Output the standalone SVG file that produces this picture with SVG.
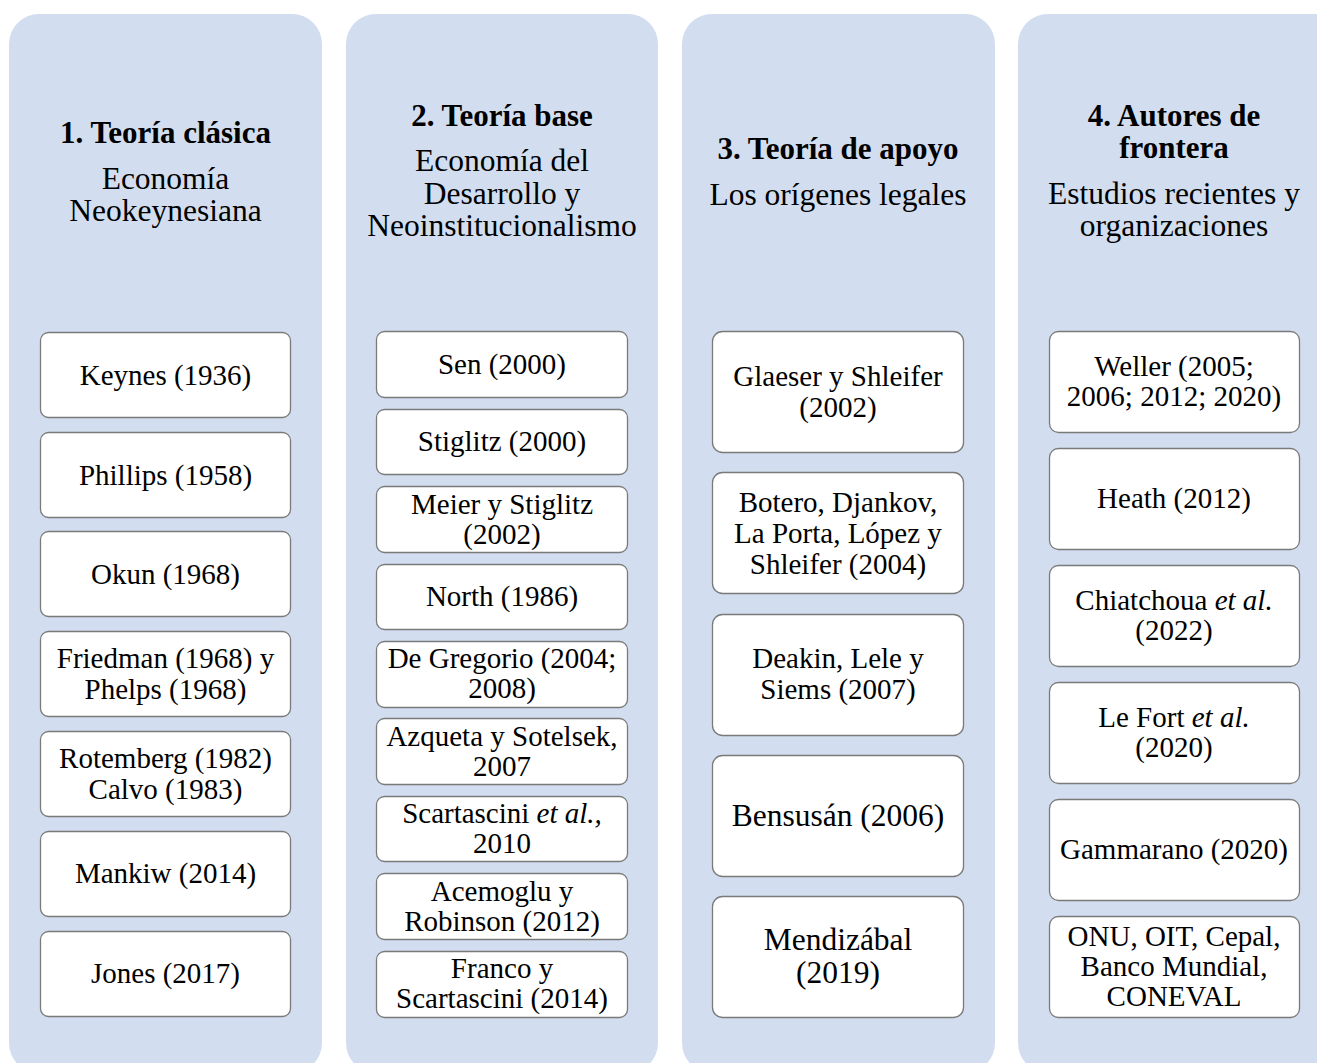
<svg xmlns="http://www.w3.org/2000/svg" width="1317" height="1063" viewBox="0 0 1317 1063">
<style>
.panel{fill:#D2DEEF;stroke:none}
.box{fill:#FFFFFF;stroke:#7A7A7A;stroke-width:1.3}
text{font-family:"Liberation Serif","Times New Roman",serif;fill:#000;text-anchor:middle}
.h{font-size:31px;font-weight:bold}
.s{font-size:31.5px}
.t{font-size:29px}
.tl{font-size:31.5px}
.i{font-style:italic}
</style>
<rect width="1317" height="1063" fill="#FFFFFF"/>
<g id="connectors"></g>

<g id="col1">
<rect class="panel" x="9" y="14" width="313" height="1059" rx="30"/>
<text class="h" x="165.5" y="143">1. Teoría clásica</text>
<text class="s" x="165.5" y="189">Economía</text>
<text class="s" x="165.5" y="221">Neokeynesiana</text>
</g>
<g id="c1n1"><rect class="box" x="40.5" y="332.5" width="250" height="85" rx="8"/><text class="t" x="165.5" y="385">Keynes (1936)</text></g>
<g id="c1n2"><rect class="box" x="40.5" y="432.5" width="250" height="85" rx="8"/><text class="t" x="165.5" y="485">Phillips (1958)</text></g>
<g id="c1n3"><rect class="box" x="40.5" y="531.5" width="250" height="85" rx="8"/><text class="t" x="165.5" y="584">Okun (1968)</text></g>
<g id="c1n4"><rect class="box" x="40.5" y="631.5" width="250" height="85" rx="8"/><text class="t" x="165.5" y="668">Friedman (1968) y</text><text class="t" x="165.5" y="699">Phelps (1968)</text></g>
<g id="c1n5"><rect class="box" x="40.5" y="731.5" width="250" height="85" rx="8"/><text class="t" x="165.5" y="768">Rotemberg (1982)</text><text class="t" x="165.5" y="799">Calvo (1983)</text></g>
<g id="c1n6"><rect class="box" x="40.5" y="831.5" width="250" height="85" rx="8"/><text class="t" x="165.5" y="883">Mankiw (2014)</text></g>
<g id="c1n7"><rect class="box" x="40.5" y="931.5" width="250" height="85" rx="8"/><text class="t" x="165.5" y="983">Jones (2017)</text></g>

<g id="col2">
<rect class="panel" x="346" y="14" width="312" height="1059" rx="30"/>
<text class="h" x="502" y="126">2. Teoría base</text>
<text class="s" x="502" y="171">Economía del</text>
<text class="s" x="502" y="204">Desarrollo y</text>
<text class="s" x="502" y="236">Neoinstitucionalismo</text>
</g>
<g id="c2n1"><rect class="box" x="376.5" y="331.5" width="251" height="66" rx="8"/><text class="t" x="502" y="374">Sen (2000)</text></g>
<g id="c2n2"><rect class="box" x="376.5" y="409.5" width="251" height="65" rx="8"/><text class="t" x="502" y="451">Stiglitz (2000)</text></g>
<g id="c2n3"><rect class="box" x="376.5" y="486.5" width="251" height="66" rx="8"/><text class="t" x="502" y="514">Meier y Stiglitz</text><text class="t" x="502" y="544">(2002)</text></g>
<g id="c2n4"><rect class="box" x="376.5" y="564.5" width="251" height="65" rx="8"/><text class="t" x="502" y="606">North (1986)</text></g>
<g id="c2n5"><rect class="box" x="376.5" y="641.5" width="251" height="66" rx="8"/><text class="t" x="502" y="668">De Gregorio (2004;</text><text class="t" x="502" y="698">2008)</text></g>
<g id="c2n6"><rect class="box" x="376.5" y="718.5" width="251" height="66" rx="8"/><text class="t" x="502" y="746">Azqueta y Sotelsek,</text><text class="t" x="502" y="776">2007</text></g>
<g id="c2n7"><rect class="box" x="376.5" y="796.5" width="251" height="65" rx="8"/><text class="t" x="502" y="823">Scartascini <tspan class="i">et al.,</tspan></text><text class="t" x="502" y="853">2010</text></g>
<g id="c2n8"><rect class="box" x="376.5" y="873.5" width="251" height="66" rx="8"/><text class="t" x="502" y="901">Acemoglu y</text><text class="t" x="502" y="931">Robinson (2012)</text></g>
<g id="c2n9"><rect class="box" x="376.5" y="951.5" width="251" height="66" rx="8"/><text class="t" x="502" y="978">Franco y</text><text class="t" x="502" y="1008">Scartascini (2014)</text></g>

<g id="col3">
<rect class="panel" x="682" y="14" width="313" height="1059" rx="30"/>
<text class="h" x="838" y="159">3. Teoría de apoyo</text>
<text class="s" x="838" y="205">Los orígenes legales</text>
</g>
<g id="c3n1"><rect class="box" x="712.5" y="331.5" width="251" height="121" rx="10"/><text class="t" x="838" y="386">Glaeser y Shleifer</text><text class="t" x="838" y="417">(2002)</text></g>
<g id="c3n2"><rect class="box" x="712.5" y="472.5" width="251" height="121" rx="10"/><text class="t" x="838" y="512">Botero, Djankov,</text><text class="t" x="838" y="543">La Porta, López y</text><text class="t" x="838" y="574">Shleifer (2004)</text></g>
<g id="c3n3"><rect class="box" x="712.5" y="614.5" width="251" height="121" rx="10"/><text class="t" x="838" y="668">Deakin, Lele y</text><text class="t" x="838" y="699">Siems (2007)</text></g>
<g id="c3n4"><rect class="box" x="712.5" y="755.5" width="251" height="121" rx="10"/><text class="tl" x="838" y="826">Bensusán (2006)</text></g>
<g id="c3n5"><rect class="box" x="712.5" y="896.5" width="251" height="121" rx="10"/><text class="tl" x="838" y="950">Mendizábal</text><text class="tl" x="838" y="983">(2019)</text></g>

<g id="col4">
<rect class="panel" x="1018" y="14" width="330" height="1059" rx="30"/>
<text class="h" x="1174" y="126">4. Autores de</text>
<text class="h" x="1174" y="158">frontera</text>
<text class="s" x="1174" y="204">Estudios recientes y</text>
<text class="s" x="1174" y="236">organizaciones</text>
</g>
<g id="c4n1"><rect class="box" x="1049.5" y="331.5" width="250" height="101" rx="9"/><text class="t" x="1174" y="376">Weller (2005;</text><text class="t" x="1174" y="406">2006; 2012; 2020)</text></g>
<g id="c4n2"><rect class="box" x="1049.5" y="448.5" width="250" height="101" rx="9"/><text class="t" x="1174" y="508">Heath (2012)</text></g>
<g id="c4n3"><rect class="box" x="1049.5" y="565.5" width="250" height="101" rx="9"/><text class="t" x="1174" y="610">Chiatchoua <tspan class="i">et al.</tspan></text><text class="t" x="1174" y="640">(2022)</text></g>
<g id="c4n4"><rect class="box" x="1049.5" y="682.5" width="250" height="101" rx="9"/><text class="t" x="1174" y="727">Le Fort <tspan class="i">et al.</tspan></text><text class="t" x="1174" y="757">(2020)</text></g>
<g id="c4n5"><rect class="box" x="1049.5" y="799.5" width="250" height="101" rx="9"/><text class="t" x="1174" y="859">Gammarano (2020)</text></g>
<g id="c4n6"><rect class="box" x="1049.5" y="916.5" width="250" height="101" rx="9"/><text class="t" x="1174" y="946">ONU, OIT, Cepal,</text><text class="t" x="1174" y="976">Banco Mundial,</text><text class="t" x="1174" y="1006">CONEVAL</text></g>
</svg>
